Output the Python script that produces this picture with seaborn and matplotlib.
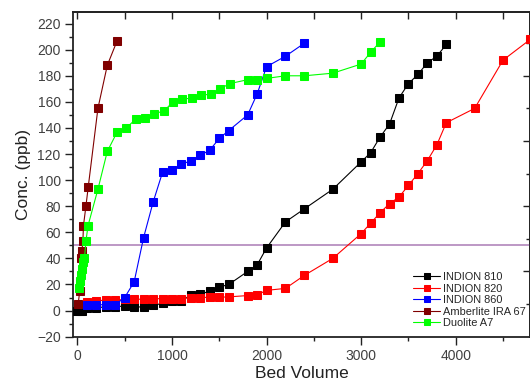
import numpy as np
import pandas as pd
import seaborn as sns
import matplotlib
matplotlib.use('Agg')
import matplotlib.pyplot as plt
from matplotlib import ticker

# values
bv_810 = [0, 25, 50, 100, 200, 300, 400, 500, 600, 700, 800, 900, 1000, 1100,
          1200, 1300, 1400, 1500, 1600, 1800, 1900, 2000, 2200, 2400, 2700,
          3000, 3100, 3200, 3300, 3400, 3500, 3600, 3700, 3800, 3900]
conc_810 = [0, 0, 0, 2, 2, 3, 3, 3.5, 2.5, 3, 4, 5.5, 7, 7.5,
            12, 12.5, 15, 18, 20, 30, 35, 48, 68, 78, 93,
            114, 121, 133, 143, 163, 174, 181, 190, 195, 204]

bv_820 = [100, 200, 300, 400, 500, 600, 700, 800, 900, 1000, 1100, 1200, 1300,
          1400, 1500, 1600, 1800, 1900, 2000, 2200, 2400, 2700, 3000, 3100,
          3200, 3300, 3400, 3500, 3600, 3700, 3800, 3900, 4200, 4500, 4790]
conc_820 = [6.5, 7.5, 8, 8, 8.5, 8.7, 8.7, 9, 9.2, 9.2, 9.2, 10, 10,
            10.2, 10.2, 10.5, 11.5, 12, 15.5, 17, 27, 40, 59, 67,
            75, 82, 87, 96, 105, 115, 127, 144, 155, 192, 208]

bv_860 = [100, 200, 300, 400, 500, 600, 700, 800, 900, 1000, 1100, 1200, 1300,
          1400, 1500, 1600, 1800, 1900, 2000, 2200, 2400]
conc_860 = [4.5, 4.5, 4.5, 4.5, 10, 22, 56, 83, 106, 108, 112, 115, 119,
            123, 132, 138, 150, 166, 187, 195, 205]

bv_ira67 = [8, 25, 35, 48, 58, 64, 90, 115, 217, 316, 421]
conc_ira67 = [5, 15, 40, 46, 53, 65, 80, 95, 155, 188, 207]

bv_a7 = [15, 30, 40, 50, 62, 75, 90, 112, 217, 316, 421, 516, 621, 712, 814,
         916, 1010, 1110, 1210, 1310, 1410, 1510, 1610, 1800, 1900, 2000,
         2200, 2400, 2700, 3000, 3100, 3200]
conc_a7 = [17, 23, 27, 32, 37, 40, 53, 65, 93, 122, 137, 140, 147, 148, 151,
           153, 160, 162, 163, 165, 166, 170, 174, 177, 177, 178,
           180, 180, 182, 189, 198, 206]

series = [('INDION 810', bv_810, conc_810, '#000000'),
          ('INDION 820', bv_820, conc_820, '#ff0000'),
          ('INDION 860', bv_860, conc_860, '#0000ff'),
          ('Amberlite IRA 67', bv_ira67, conc_ira67, '#800000'),
          ('Duolite A7', bv_a7, conc_a7, '#00ff00')]

limit = 50

sns.set_theme(style='ticks')
plt.rcParams['font.family'] = ['Liberation Sans', 'DejaVu Sans']

fig = plt.figure(figsize=(5.3, 3.83), dpi=100)
ax = fig.add_axes([0.138, 0.121, 0.862, 0.848])

ax.axhline(limit, color='#b890c0', lw=1.3, zorder=1)

for name, x, y, c in series:
    df = pd.DataFrame({'Bed Volume': x, 'Conc. (ppb)': y})
    sns.lineplot(data=df, x='Bed Volume', y='Conc. (ppb)', ax=ax,
                 color=c, marker='s', markersize=5.2, markeredgecolor=c,
                 linewidth=0.8, label=name, zorder=3)

ax.set_xlim(-45, 4785)
ax.set_ylim(-20, 229)
ax.xaxis.set_major_locator(ticker.MultipleLocator(1000))
ax.xaxis.set_minor_locator(ticker.MultipleLocator(500))
ax.yaxis.set_major_locator(ticker.MultipleLocator(20))
ax.yaxis.set_minor_locator(ticker.MultipleLocator(10))
ax.tick_params(which='major', length=5.5, width=1, labelsize=10,
               labelcolor='#404040', color='#222222')
ax.tick_params(which='minor', length=3, width=1, color='#222222')
ax.set_xlabel('Bed Volume', fontsize=12.5, color='#222222', labelpad=2)
ax.set_ylabel('Conc. (ppb)', fontsize=12.5, color='#222222', labelpad=4)

for s in ax.spines.values():
    s.set_visible(True)
    s.set_linewidth(1.3)
    s.set_color('#222222')

top = ax.secondary_xaxis('top')
top.xaxis.set_major_locator(ticker.MultipleLocator(500))
top.tick_params(direction='in', length=5, width=1, labeltop=False,
                color='#222222')
right = ax.secondary_yaxis('right')
right.yaxis.set_major_locator(ticker.FixedLocator([30, 80, 130, 180]))
right.yaxis.set_minor_locator(ticker.FixedLocator([5, 55, 105, 155, 205]))
right.tick_params(which='major', direction='in', length=5, width=1,
                  labelright=False, color='#222222')
right.tick_params(which='minor', direction='in', length=3, width=1,
                  labelright=False, color='#222222')

ax.legend(loc='upper left', bbox_to_anchor=(413 / 530, 1 - 272 / 383),
          bbox_transform=fig.transFigure, frameon=False, fontsize=7.9,
          handlelength=2.5, handletextpad=0.2, labelspacing=0.14,
          borderpad=0, borderaxespad=0, markerscale=0.9)

plt.savefig('out.png', dpi=100)
plt.close()
